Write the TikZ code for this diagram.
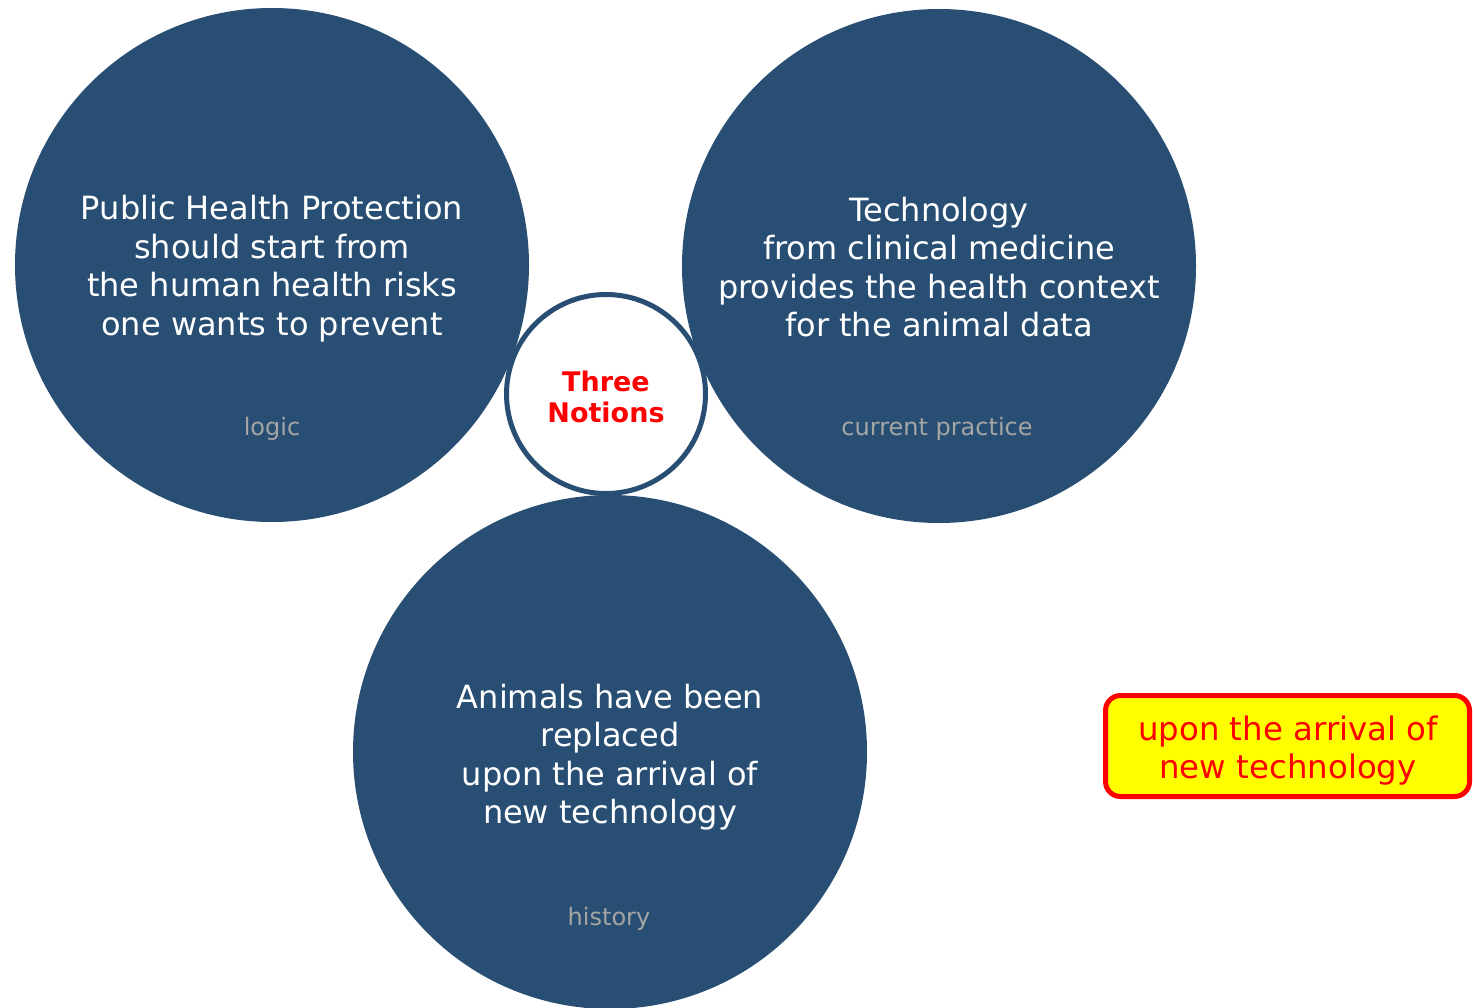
\documentclass[tikz,border=0pt]{standalone}
\usepackage{fontspec}
\setmainfont{DejaVu Sans}
\definecolor{navy}{RGB}{40,79,115}
\definecolor{subgray}{RGB}{165,165,165}
\definecolor{boxred}{RGB}{255,0,0}
\definecolor{boxyellow}{RGB}{255,255,0}
\begin{document}
\begin{tikzpicture}[x=1pt,y=-1pt,
  bigc/.style={circle,fill=navy,draw=none,minimum size=514pt,inner sep=0pt},
  maintext/.style={text=white,align=center,inner sep=0pt,font=\fontsize{32}{38.5}\selectfont},
  sub/.style={text=subgray,font=\fontsize{24}{28}\selectfont,inner sep=0pt},
  hub/.style={circle,fill=white,draw=navy,line width=5pt,minimum size=199pt,inner sep=0pt},
  hubtext/.style={text=boxred,align=center,inner sep=0pt,font=\fontsize{27}{31}\selectfont\bfseries},
  note/.style={rectangle,rounded corners=15pt,fill=boxyellow,draw=boxred,line width=5pt,minimum width=364pt,minimum height=101pt,
    inner sep=0pt},
  notetext/.style={text=boxred,align=center,inner sep=0pt,font=\fontsize{32.4}{38}\selectfont}]
\useasboundingbox[fill=white] (0,0) rectangle (1473,1008);
\node[bigc] (ph) at (272,265) {};
\node[bigc] (tech) at (939,266) {};
\node[bigc] (anim) at (610,752) {};
\node[maintext] (phtext) at (272,268.5) {Public Health Protection\\should start from\\the human health risks\\one wants to prevent};
\node[maintext] (techtext) at (939,267) {Technology\\from clinical medicine\\provides the health context\\for the animal data};
\node[maintext] (animtext) at (610,757) {Animals have been\\replaced\\upon the arrival of\\new technology};
\node[sub] (phlab) at (272,429) {logic};
\node[sub] (techlab) at (937,429) {current practice};
\node[sub] (animlab) at (609,919) {history};
\node[hub] (hub) at (606,394) {};
\node[hubtext] (hubtext) at (606,396.5) {Three\\Notions};
\node[note] (note) at (1287.5,746) {};
\node[notetext] (notetext) at (1288,751) {upon the arrival of\\new technology};
\end{tikzpicture}
\end{document}
